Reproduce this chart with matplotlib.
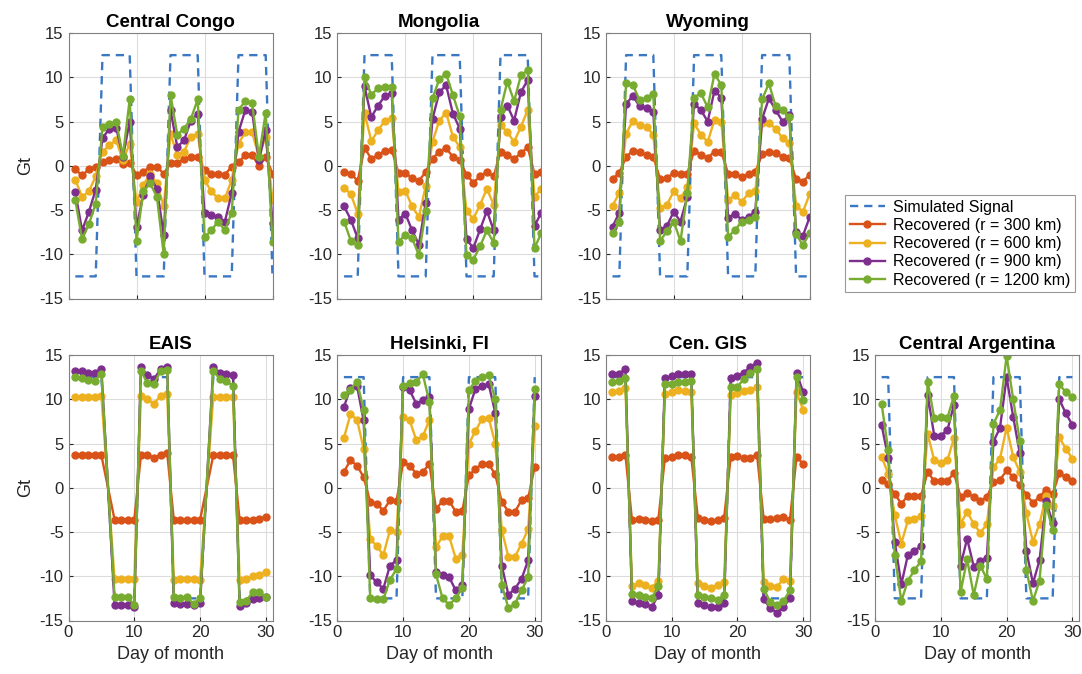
import numpy as np
import matplotlib
matplotlib.use("Agg")
import matplotlib.pyplot as plt

plt.rcParams['font.family'] = ['Liberation Sans', 'DejaVu Sans']
plt.rcParams['axes.unicode_minus'] = False

# Day numbers for each panel (EAIS has two missing days)
days = list(range(1, 31))
eais_days = [1, 2, 3, 4, 5, 7, 8, 9, 10, 11, 12, 13, 14, 15, 16, 17, 18, 19, 20,
             22, 23, 24, 25, 26, 27, 28, 29, 30]

# Central Congo
congo_sim = [-12.5, -12.5, -12.5, -12.5, 12.5, 12.5, 12.5, 12.5, 12.5, -12.5,
             -12.5, -12.5, -12.5, -12.5, 12.5, 12.5, 12.5, 12.5, 12.5, -12.5,
             -12.5, -12.5, -12.5, -12.5, 12.5, 12.5, 12.5, 12.5, 12.5, -12.5]
congo_300 = [-0.4, -1.1, -0.4, -0.1, 0.4, 0.6, 0.8, 0.2, 0.3, -1.0,
             -0.7, -0.1, -0.1, -0.9, 0.3, 0.3, 0.8, 1.0, 1.0, -0.5,
             -0.9, -0.9, -1.0, -0.1, 0.4, 1.2, 1.2, 0.0, 1.0, -0.9]
congo_600 = [-1.6, -3.5, -2.9, -1.2, 1.6, 2.3, 2.9, 0.6, 2.5, -4.1,
             -2.2, -0.9, -2.0, -4.6, 3.6, 1.2, 1.6, 3.3, 3.6, -1.6,
             -2.9, -3.7, -3.7, -1.6, 2.5, 3.8, 3.8, 1.0, 3.3, -3.9]
congo_900 = [-3.0, -7.3, -5.2, -2.7, 3.1, 4.2, 4.3, 1.0, 5.0, -6.9,
             -3.3, -1.2, -2.6, -7.8, 6.3, 2.1, 2.9, 5.1, 5.9, -5.3,
             -5.6, -5.8, -6.3, -3.1, 3.8, 6.3, 6.1, 0.6, 4.0, -6.5]
congo_1200 = [-3.9, -8.3, -6.6, -4.3, 4.4, 4.7, 5.0, 1.1, 7.5, -8.5,
              -2.9, -2.0, -3.5, -10.0, 8.0, 3.5, 4.2, 5.3, 7.5, -8.1,
              -7.3, -6.3, -7.3, -5.3, 6.3, 7.3, 7.1, 1.0, 6.0, -8.6]

# Mongolia
mong_sim = [-12.5, -12.5, -12.5, 12.5, 12.5, 12.5, 12.5, 12.5, -12.5, -12.5,
            -12.5, -12.5, -12.5, 12.5, 12.5, 12.5, 12.5, 12.5, -12.5, -12.5,
            -12.5, -12.5, -12.5, 12.5, 12.5, 12.5, 12.5, 12.5, -12.5, -12.5]
mong_300 = [-0.7, -0.9, -1.7, 2.0, 0.8, 1.2, 1.7, 1.8, -0.8, -0.8,
            -1.4, -1.7, -0.7, 0.8, 1.6, 2.0, 1.0, 0.6, -1.0, -1.9,
            -1.2, -0.7, -1.2, 1.6, 1.2, 0.8, 1.4, 2.1, -0.9, -0.7]
mong_600 = [-2.5, -3.2, -5.4, 6.0, 2.8, 4.0, 5.1, 5.4, -3.0, -2.8,
            -4.6, -5.8, -2.3, 2.7, 5.1, 6.0, 3.3, 2.1, -5.1, -6.0,
            -4.4, -2.6, -4.4, 4.6, 3.8, 2.7, 4.4, 6.3, -3.5, -2.6]
mong_900 = [-4.6, -6.1, -8.2, 9.0, 5.5, 6.8, 7.9, 8.2, -6.1, -5.4,
            -7.3, -8.9, -4.2, 5.3, 8.3, 9.1, 5.9, 4.2, -8.3, -9.3,
            -7.2, -5.1, -7.3, 5.5, 6.8, 5.1, 8.3, 9.7, -6.8, -5.3]
mong_1200 = [-6.3, -8.5, -9.0, 10.0, 8.0, 8.8, 8.9, 8.9, -8.6, -7.8,
             -8.2, -10.1, -5.1, 7.6, 9.8, 10.4, 8.0, 5.6, -10.1, -10.6,
             -9.1, -7.3, -8.7, 6.3, 9.5, 7.3, 10.2, 10.8, -9.3, -7.6]

# Wyoming
wyo_sim = [-12.5, -12.5, 12.5, 12.5, 12.5, 12.5, 12.5, -12.5, -12.5, -12.5,
           -12.5, -12.5, 12.5, 12.5, 12.5, 12.5, 12.5, -12.5, -12.5, -12.5,
           -12.5, -12.5, 12.5, 12.5, 12.5, 12.5, 12.5, -12.5, -12.5, -12.5]
wyo_300 = [-1.5, -0.8, 1.0, 1.7, 1.6, 1.2, 1.0, -1.5, -1.4, -0.8,
           -0.9, -0.9, 1.7, 1.2, 0.9, 1.6, 1.6, -0.9, -0.9, -1.3,
           -0.9, -0.7, 1.3, 1.6, 1.4, 1.0, 0.9, -1.5, -1.8, -1.0]
wyo_600 = [-4.5, -3.1, 3.6, 5.1, 4.6, 4.4, 3.5, -4.8, -4.4, -2.9,
           -3.7, -2.4, 4.8, 3.5, 2.7, 5.2, 5.0, -3.9, -3.3, -4.1,
           -3.1, -2.9, 4.8, 4.8, 4.2, 3.1, 2.6, -4.5, -5.2, -3.2]
wyo_900 = [-6.9, -5.3, 7.0, 7.9, 6.7, 6.5, 6.1, -7.3, -6.8, -5.2,
           -6.3, -3.5, 7.0, 6.3, 5.0, 8.5, 7.7, -5.9, -5.4, -6.1,
           -5.8, -5.2, 5.3, 7.6, 6.3, 5.0, 5.7, -7.5, -7.9, -5.8]
wyo_1200 = [-7.6, -6.4, 9.4, 9.1, 7.4, 7.6, 8.1, -8.5, -7.4, -6.3,
            -8.5, -3.1, 7.7, 8.2, 6.6, 10.4, 9.1, -8.0, -7.3, -6.3,
            -6.1, -5.8, 7.5, 9.3, 6.7, 6.3, 5.5, -7.7, -9.0, -7.6]

# EAIS
eais_sim = [12.5, 12.5, 12.5, 12.5, 12.5, -12.5, -12.5, -12.5, -12.5,
            12.5, 12.5, 12.5, 12.5, 12.5, -12.5, -12.5, -12.5, -12.5, -12.5,
            12.5, 12.5, 12.5, 12.5, -12.5, -12.5, -12.5, -12.5, -12.5]
eais_300 = [3.65, 3.65, 3.65, 3.65, 3.65, -3.6, -3.6, -3.6, -3.6,
            3.65, 3.75, 3.4, 3.75, 3.9, -3.6, -3.6, -3.6, -3.6, -3.6,
            3.65, 3.65, 3.65, 3.65, -3.6, -3.6, -3.6, -3.5, -3.3]
eais_600 = [10.3, 10.3, 10.3, 10.3, 10.4, -10.3, -10.3, -10.3, -10.3,
            10.4, 10.0, 9.5, 10.4, 10.6, -10.4, -10.3, -10.3, -10.3, -10.4,
            10.3, 10.3, 10.3, 10.3, -10.4, -10.3, -10.0, -9.9, -9.5]
eais_900 = [13.2, 13.2, 13.0, 13.0, 13.4, -13.2, -13.2, -13.3, -13.5,
            13.6, 12.7, 12.3, 13.4, 13.7, -13.0, -13.1, -13.1, -13.2, -13.0,
            13.6, 13.0, 12.9, 12.7, -13.4, -13.0, -12.6, -12.5, -12.3]
eais_1200 = [12.5, 12.4, 12.2, 12.1, 12.9, -12.3, -12.4, -12.4, -13.2,
             13.2, 11.8, 11.7, 13.2, 13.3, -12.4, -12.5, -12.4, -13.1, -12.5,
             13.2, 12.3, 12.1, 11.5, -12.9, -12.8, -11.8, -11.8, -12.3]

# Helsinki, FI
hel_sim = [12.5, 12.5, 12.5, 12.5, -12.5, -12.5, -12.5, -12.5, -12.5, 12.5,
           12.5, 12.5, 12.5, 12.5, -12.5, -12.5, -12.5, -12.5, -12.5, 12.5,
           12.5, 12.5, 12.5, 12.5, -12.5, -12.5, -12.5, -12.5, -12.5, 12.5]
hel_300 = [1.8, 3.1, 2.5, 1.2, -1.6, -1.8, -2.6, -1.4, -1.5, 2.9,
           2.5, 1.6, 1.8, 2.7, -2.4, -1.5, -1.5, -2.7, -2.6, 1.4,
           2.1, 2.7, 2.7, 1.5, -1.6, -2.7, -2.7, -1.4, -1.2, 2.4]
hel_600 = [5.6, 8.3, 7.7, 4.4, -5.8, -6.6, -7.6, -4.8, -5.0, 8.0,
           7.6, 5.4, 5.8, 7.7, -6.7, -5.5, -5.5, -8.0, -7.6, 5.0,
           6.4, 7.8, 7.9, 5.0, -4.8, -7.8, -7.8, -6.3, -4.7, 7.0]
hel_900 = [9.1, 11.3, 11.5, 7.6, -9.9, -10.7, -11.4, -8.8, -8.2, 11.4,
           11.0, 9.5, 9.9, 10.2, -9.5, -9.9, -10.1, -11.6, -11.0, 8.9,
           11.2, 11.5, 11.7, 8.5, -8.8, -12.1, -11.4, -10.3, -8.2, 10.4]
hel_1200 = [10.5, 11.1, 12.0, 8.8, -12.5, -12.6, -12.6, -10.4, -9.2, 11.5,
            11.8, 12.0, 12.8, 9.7, -9.8, -12.5, -13.2, -12.5, -11.3, 11.0,
            12.1, 12.5, 12.7, 10.0, -11.0, -13.6, -13.1, -11.6, -10.1, 11.2]

# Cen. GIS
gis_sim = [12.5, 12.5, 12.5, -12.5, -12.5, -12.5, -12.5, -12.5, 12.5, 12.5,
           12.5, 12.5, 12.5, -12.5, -12.5, -12.5, -12.5, -12.5, 12.5, 12.5,
           12.5, 12.5, 12.5, -12.5, -12.5, -12.5, -12.5, -12.5, 12.5, 12.5]
gis_300 = [3.5, 3.5, 3.7, -3.7, -3.5, -3.6, -3.75, -3.6, 3.4, 3.5,
           3.65, 3.7, 3.5, -3.4, -3.6, -3.8, -3.6, -3.4, 3.5, 3.6,
           3.4, 3.4, 3.7, -3.5, -3.5, -3.4, -3.3, -3.6, 3.5, 2.7]
gis_600 = [10.8, 10.9, 11.3, -11.1, -10.8, -11.0, -11.3, -10.5, 10.6, 10.8,
           11.0, 10.9, 10.8, -10.8, -11.1, -11.3, -11.0, -10.6, 10.5, 10.7,
           10.9, 11.0, 11.4, -10.6, -11.1, -11.2, -10.3, -10.5, 10.8, 8.8]
gis_900 = [12.9, 12.9, 13.4, -12.8, -13.0, -13.1, -13.5, -12.1, 12.4, 12.6,
           12.9, 12.9, 12.9, -13.0, -13.3, -13.5, -13.5, -13.0, 12.4, 12.6,
           13.0, 13.7, 14.1, -12.6, -13.6, -14.1, -13.5, -12.5, 13.0, 10.8]
gis_1200 = [12.0, 12.1, 12.4, -12.0, -12.1, -12.3, -12.5, -11.1, 11.7, 11.7,
            11.9, 12.0, 12.1, -12.1, -12.3, -12.5, -12.7, -12.1, 11.4, 11.4,
            12.3, 13.0, 13.4, -11.4, -12.9, -13.3, -12.8, -11.6, 12.5, 9.9]

# Central Argentina
arg_sim = [12.5, 12.5, -12.5, -12.5, -12.5, -12.5, -12.5, 12.5, 12.5, 12.5,
           12.5, 12.5, -12.5, -12.5, -12.5, -12.5, -12.5, 12.5, 12.5, 12.5,
           12.5, 12.5, -12.5, -12.5, -12.5, -12.5, -12.5, 12.5, 12.5, 12.5]
arg_300 = [0.9, 0.4, -0.7, -1.8, -0.9, -0.9, -0.9, 1.8, 0.75, 0.75,
           0.8, 1.65, -1.0, -0.6, -1.05, -1.5, -1.05, 0.6, 0.9, 1.95,
           1.2, 0.3, -0.8, -1.7, -1.05, -0.2, -0.7, 1.65, 1.2, 0.75]
arg_600 = [3.5, 1.6, -3.1, -6.3, -3.7, -3.5, -3.2, 6.1, 3.1, 2.8,
           3.1, 5.6, -4.1, -2.7, -4.1, -5.1, -4.1, 2.3, 3.3, 6.8,
           3.5, 1.8, -2.9, -6.1, -4.1, -0.9, -2.1, 5.7, 4.4, 3.3]
arg_900 = [7.1, 3.4, -6.1, -10.9, -7.6, -7.1, -6.6, 10.5, 5.9, 5.9,
           6.5, 9.4, -8.8, -5.75, -8.9, -8.3, -7.9, 5.2, 6.8, 12.5,
           8.0, 3.9, -7.1, -10.8, -8.2, -1.5, -4.0, 10.0, 8.4, 7.1]
arg_1200 = [9.5, 4.3, -7.6, -12.8, -10.5, -9.3, -8.3, 12.0, 7.9, 8.0,
            7.9, 10.4, -11.8, -8.1, -12.1, -8.8, -10.3, 7.2, 8.8, 14.9,
            10.0, 5.3, -9.3, -12.8, -10.5, -1.9, -4.8, 11.7, 10.8, 10.2]

titles = ['Central Congo', 'Mongolia', 'Wyoming', 'EAIS', 'Helsinki, FI',
          'Cen. GIS', 'Central Argentina']
series_labels = ['Simulated Signal', 'Recovered (r = 300 km)',
                 'Recovered (r = 600 km)', 'Recovered (r = 900 km)',
                 'Recovered (r = 1200 km)']

panels = [
    (days, congo_sim, congo_300, congo_600, congo_900, congo_1200),
    (days, mong_sim, mong_300, mong_600, mong_900, mong_1200),
    (days, wyo_sim, wyo_300, wyo_600, wyo_900, wyo_1200),
    (eais_days, eais_sim, eais_300, eais_600, eais_900, eais_1200),
    (days, hel_sim, hel_300, hel_600, hel_900, hel_1200),
    (days, gis_sim, gis_300, gis_600, gis_900, gis_1200),
    (days, arg_sim, arg_300, arg_600, arg_900, arg_1200),
]

# MATLAB-like colours
sim_color = '#3a78c4'
rec_colors = ['#D95319', '#EDB120', '#7E2F8E', '#77AC30']
axis_gray = '#262626'

W, H = 1082, 674
fig = plt.figure(figsize=(W / 100, H / 100), dpi=100)

col_left = [68.5, 337.3, 605.7, 875.0]
ax_w = 204.0
row_top = [33.0, 355.0]
ax_h = 265.5
slots = [(0, 0), (0, 1), (0, 2), (1, 0), (1, 1), (1, 2), (1, 3)]

handles = []
for i, (row, col) in enumerate(slots):
    x, sim, r300, r600, r900, r1200 = panels[i]
    ax = fig.add_axes([col_left[col] / W, 1 - (row_top[row] + ax_h) / H,
                       ax_w / W, ax_h / H])
    h0, = ax.plot(x, sim, '--', color=sim_color, lw=1.7, dashes=(3.5, 2.5))
    hs = [h0]
    for vals, c in zip([r300, r600, r900, r1200], rec_colors):
        h, = ax.plot(x, vals, '-o', color=c, lw=1.7, ms=5, mec=c, mfc=c)
        hs.append(h)
    if i == 0:
        handles = hs

    ax.set_ylim(-15, 15)
    ax.set_yticks([-15, -10, -5, 0, 5, 10, 15])
    ax.set_xticks([0, 10, 20, 30])
    if row == 0:
        ax.set_xlim(0, 30)
        ax.set_xticklabels([])
    else:
        ax.set_xlim(0, 31)
        ax.set_xlabel('Day of month', fontsize=13, color=axis_gray)
    if col == 0:
        ax.set_ylabel('Gt', fontsize=13, color=axis_gray)
    ax.set_title(titles[i], fontsize=13.5, fontweight='bold', pad=4)
    ax.grid(True, color='#dcdcdc', lw=0.8)
    ax.set_axisbelow(True)
    ax.tick_params(direction='in', labelsize=12, colors=axis_gray, length=3)
    for s in ax.spines.values():
        s.set_color('#808080')
        s.set_linewidth(0.8)

leg = fig.legend(handles, series_labels, loc='upper left',
                 bbox_to_anchor=(845 / W, 1 - 195 / H), fontsize=11.5,
                 frameon=True, fancybox=False, borderaxespad=0,
                 handlelength=2.2, borderpad=0.3, labelspacing=0.2,
                 handletextpad=0.5)
leg.get_frame().set_edgecolor('#808080')
leg.get_frame().set_linewidth(0.8)

fig.savefig('out.png', dpi=100)
